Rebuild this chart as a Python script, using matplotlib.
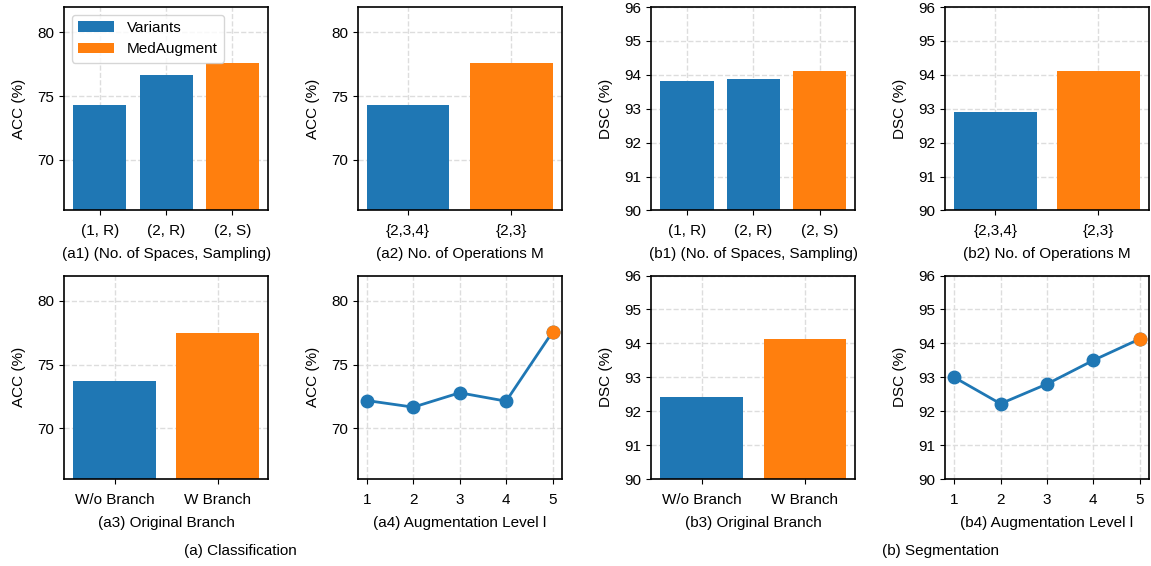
import matplotlib
matplotlib.use('Agg')
import matplotlib.pyplot as plt

plt.rcParams['font.family'] = ['Liberation Sans', 'DejaVu Sans']
plt.rcParams['font.size'] = 11
plt.rcParams['xtick.major.pad'] = 6.5

blue = '#1f77b4'
orange = '#ff7f0e'

# classification (ACC)
a1_labels = ['(1, R)', '(2, R)', '(2, S)']
a1_values = [74.27, 76.62, 77.56]
a2_labels = ['{2,3,4}', '{2,3}']
a2_values = [74.27, 77.56]
a3_labels = ['W/o Branch', 'W Branch']
a3_values = [73.72, 77.49]
a4_levels = [1, 2, 3, 4, 5]
a4_values = [72.17, 71.65, 72.78, 72.12, 77.56]

# segmentation (DSC)
b1_labels = ['(1, R)', '(2, R)', '(2, S)']
b1_values = [93.82, 93.88, 94.12]
b2_labels = ['{2,3,4}', '{2,3}']
b2_values = [92.90, 94.12]
b3_labels = ['W/o Branch', 'W Branch']
b3_values = [92.42, 94.13]
b4_levels = [1, 2, 3, 4, 5]
b4_values = [93.00, 92.22, 92.80, 93.50, 94.13]

fig, axes = plt.subplots(2, 4, figsize=(11.51, 5.66), dpi=100)
plt.subplots_adjust(left=64/1151, right=1149/1151, top=1-7/566, bottom=1-479/566,
                    wspace=0.438, hspace=0.32)


def style(ax, ylab, lim, ticks):
    ax.set_ylim(*lim)
    ax.set_yticks(ticks)
    ax.set_ylabel(ylab, labelpad=8)
    ax.grid(True, linestyle='--', color='#dddddd', linewidth=1)
    ax.set_axisbelow(True)
    for s in ax.spines.values():
        s.set_linewidth(1.2)


def bars(ax, labels, values, xlab, ylab, lim, ticks):
    x = list(range(len(labels)))
    colors = [blue] * (len(values) - 1) + [orange]
    b = ax.bar(x, values, width=0.8, color=colors)
    ax.set_xticks(x)
    ax.set_xticklabels(labels)
    ax.set_xlabel(xlab, labelpad=6.5)
    style(ax, ylab, lim, ticks)
    return b


def line(ax, levels, values, xlab, ylab, lim, ticks):
    ax.plot(levels, values, color=blue, linewidth=2, marker='o', markersize=9, zorder=3)
    ax.plot(levels[-1:], values[-1:], color=orange, marker='o', markersize=9, linestyle='', zorder=4)
    ax.set_xticks(levels)
    ax.set_xlabel(xlab, labelpad=6.5)
    style(ax, ylab, lim, ticks)


acc_lim, acc_ticks = (66, 82), [70, 75, 80]
dsc_lim, dsc_ticks = (90, 96), [90, 91, 92, 93, 94, 95, 96]

b = bars(axes[0, 0], a1_labels, a1_values, '(a1) (No. of Spaces, Sampling)', 'ACC (%)', acc_lim, acc_ticks)
axes[0, 0].legend([b[0], b[2]], ['Variants', 'MedAugment'], loc='upper left', handlelength=2.4)
bars(axes[0, 1], a2_labels, a2_values, '(a2) No. of Operations M', 'ACC (%)', acc_lim, acc_ticks)
bars(axes[1, 0], a3_labels, a3_values, '(a3) Original Branch', 'ACC (%)', acc_lim, acc_ticks)
line(axes[1, 1], a4_levels, a4_values, '(a4) Augmentation Level l', 'ACC (%)', acc_lim, acc_ticks)

bars(axes[0, 2], b1_labels, b1_values, '(b1) (No. of Spaces, Sampling)', 'DSC (%)', dsc_lim, dsc_ticks)
bars(axes[0, 3], b2_labels, b2_values, '(b2) No. of Operations M', 'DSC (%)', dsc_lim, dsc_ticks)
bars(axes[1, 2], b3_labels, b3_values, '(b3) Original Branch', 'DSC (%)', dsc_lim, dsc_ticks)
line(axes[1, 3], b4_levels, b4_values, '(b4) Augmentation Level l', 'DSC (%)', dsc_lim, dsc_ticks)

fig.text(240/1151, 1-551/566, '(a) Classification', ha='center', va='center')
fig.text(940/1151, 1-551/566, '(b) Segmentation', ha='center', va='center')

plt.savefig('out.png', dpi=100)
